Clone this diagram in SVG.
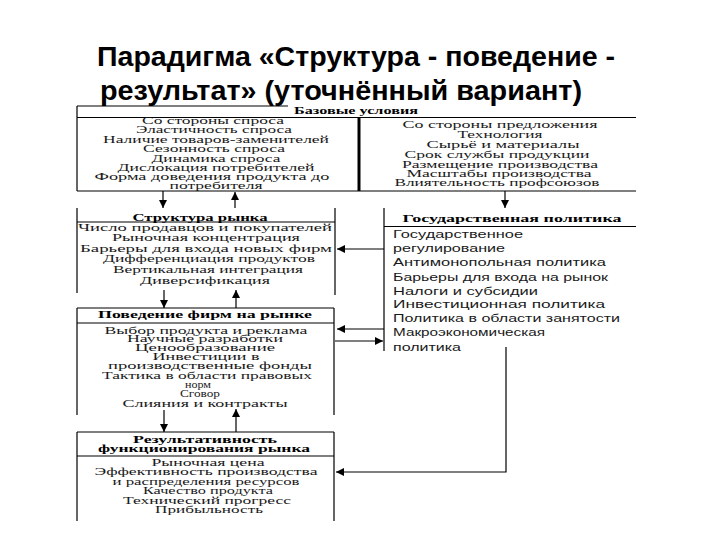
<svg xmlns="http://www.w3.org/2000/svg" width="720" height="540" viewBox="0 0 720 540">
<defs>
<style>
.ln{stroke:#000;stroke-width:1.2;fill:none}
.thick{stroke:#000;stroke-width:3;fill:none}
.ttl{font-family:"Liberation Sans",Arial,sans-serif;font-size:28px;font-weight:bold;fill:#000}
.t{font-family:"Liberation Serif","Times New Roman",serif;font-size:9.4px;text-anchor:middle;fill:#1a1a1a}
.h{font-weight:bold;font-size:10.5px;fill:#000}
.r{font-family:"Liberation Sans",Arial,sans-serif;font-size:11px;fill:#1a1a1a}
.c{stroke:#000;stroke-width:1.2;fill:none;marker-end:url(#ah)}
</style>
<marker id="ah" markerUnits="userSpaceOnUse" markerWidth="9" markerHeight="8" refX="8" refY="4" orient="auto">
<path d="M0,0 L8,4 L0,8 z" fill="#000"/>
</marker>
</defs>
<rect width="720" height="540" fill="#fff"/>
<g id="title">
<text class="ttl" x="97" y="66" textLength="518" lengthAdjust="spacingAndGlyphs">Парадигма «Структура - поведение -</text>
<text class="ttl" x="100" y="100" textLength="482" lengthAdjust="spacingAndGlyphs">результат» (уточнённый вариант)</text>
</g>
<g id="base">
<path class="ln" d="M77,106 H288 M77,106 V191 M77,117.5 H636 M77,191 H636"/>
<path class="thick" d="M359,117 V191"/>
<text class="t h" x="356" y="114" textLength="124" lengthAdjust="spacingAndGlyphs">Базовые условия</text>
<text class="t" x="213" y="123.5" textLength="142" lengthAdjust="spacingAndGlyphs">Со стороны спроса</text>
<text class="t" x="214" y="133" textLength="156" lengthAdjust="spacingAndGlyphs">Эластичность спроса</text>
<text class="t" x="216" y="142.5" textLength="226" lengthAdjust="spacingAndGlyphs">Наличие товаров-заменителей</text>
<text class="t" x="214" y="152" textLength="142" lengthAdjust="spacingAndGlyphs">Сезонность спроса</text>
<text class="t" x="216" y="161.5" textLength="129" lengthAdjust="spacingAndGlyphs">Динамика спроса</text>
<text class="t" x="216" y="170.5" textLength="197" lengthAdjust="spacingAndGlyphs">Дислокация потребителей</text>
<text class="t" x="212" y="180" textLength="235" lengthAdjust="spacingAndGlyphs">Форма доведения продукта до</text>
<text class="t" x="216" y="189" textLength="93" lengthAdjust="spacingAndGlyphs">потребителя</text>
<text class="t" x="500" y="127.8" textLength="195" lengthAdjust="spacingAndGlyphs">Со стороны предложения</text>
<text class="t" x="500" y="137.8" textLength="85" lengthAdjust="spacingAndGlyphs">Технология</text>
<text class="t" x="503" y="147.8" textLength="153" lengthAdjust="spacingAndGlyphs">Сырьё и материалы</text>
<text class="t" x="497" y="157.8" textLength="185" lengthAdjust="spacingAndGlyphs">Срок службы продукции</text>
<text class="t" x="500" y="167.5" textLength="196" lengthAdjust="spacingAndGlyphs">Размещение производства</text>
<text class="t" x="499" y="176.8" textLength="185" lengthAdjust="spacingAndGlyphs">Масштабы производства</text>
<text class="t" x="497" y="185.8" textLength="205" lengthAdjust="spacingAndGlyphs">Влиятельность профсоюзов</text>
</g>
<g id="structure">
<path class="ln" d="M77,208 V293 M335,208 V295 M77,222 H335"/>
<text class="t h" x="200" y="221" textLength="135" lengthAdjust="spacingAndGlyphs">Структура рынка</text>
<text class="t" x="205" y="231" textLength="254" lengthAdjust="spacingAndGlyphs">Число продавцов и покупателей</text>
<text class="t" x="206" y="241.2" textLength="188" lengthAdjust="spacingAndGlyphs">Рыночная концентрация</text>
<text class="t" x="206" y="251.8" textLength="252" lengthAdjust="spacingAndGlyphs">Барьеры для входа новых фирм</text>
<text class="t" x="209" y="261.8" textLength="212" lengthAdjust="spacingAndGlyphs">Дифференциация продуктов</text>
<text class="t" x="208" y="272.5" textLength="190" lengthAdjust="spacingAndGlyphs">Вертикальная интеграция</text>
<text class="t" x="205" y="283.5" textLength="130" lengthAdjust="spacingAndGlyphs">Диверсификация</text>
</g>
<g id="conduct">
<path class="ln" d="M77,308 H334 M77,308 V415 M334,308 V415 M77,323 H334"/>
<text class="t h" x="205" y="318" textLength="214" lengthAdjust="spacingAndGlyphs">Поведение фирм на рынке</text>
<text class="t" x="206" y="333.5" textLength="203" lengthAdjust="spacingAndGlyphs">Выбор продукта и реклама</text>
<text class="t" x="205" y="341.8" textLength="156" lengthAdjust="spacingAndGlyphs">Научные разработки</text>
<text class="t" x="205" y="350.8" textLength="140" lengthAdjust="spacingAndGlyphs">Ценообразование</text>
<text class="t" x="206" y="359.5" textLength="107" lengthAdjust="spacingAndGlyphs">Инвестиции в</text>
<text class="t" x="210" y="369.2" textLength="204" lengthAdjust="spacingAndGlyphs">производственные фонды</text>
<text class="t" x="207" y="378.5" textLength="210" lengthAdjust="spacingAndGlyphs">Тактика в области правовых</text>
<text class="t" x="198" y="387.8" textLength="26" lengthAdjust="spacingAndGlyphs">норм</text>
<text class="t" x="200" y="396.8" textLength="40" lengthAdjust="spacingAndGlyphs">Сговор</text>
<text class="t" x="205" y="406.8" textLength="165" lengthAdjust="spacingAndGlyphs">Слияния и контракты</text>
</g>
<g id="performance">
<path class="ln" d="M77,432 H334 M77,432 V521 M334,432 V521 M77,456 H334"/>
<text class="t h" x="205" y="443" textLength="144" lengthAdjust="spacingAndGlyphs">Результативность</text>
<text class="t h" x="204" y="452" textLength="212" lengthAdjust="spacingAndGlyphs">функционирования рынка</text>
<text class="t" x="208" y="465.8" textLength="113" lengthAdjust="spacingAndGlyphs">Рыночная цена</text>
<text class="t" x="206" y="475.2" textLength="223" lengthAdjust="spacingAndGlyphs">Эффективность производства</text>
<text class="t" x="206" y="484.5" textLength="187" lengthAdjust="spacingAndGlyphs">и распределения ресурсов</text>
<text class="t" x="208" y="493.5" textLength="130" lengthAdjust="spacingAndGlyphs">Качество продукта</text>
<text class="t" x="207" y="503.5" textLength="168" lengthAdjust="spacingAndGlyphs">Технический прогресс</text>
<text class="t" x="209" y="512.8" textLength="108" lengthAdjust="spacingAndGlyphs">Прибыльность</text>
</g>
<g id="policy">
<path class="ln" d="M384,208 V351 M384,226.5 H636"/>
<text class="t h" x="512" y="222" textLength="219" lengthAdjust="spacingAndGlyphs">Государственная политика</text>
<text class="r" x="393" y="238.3" textLength="130" lengthAdjust="spacingAndGlyphs">Государственное</text>
<text class="r" x="393" y="252.3" textLength="112" lengthAdjust="spacingAndGlyphs">регулирование</text>
<text class="r" x="393" y="266.3" textLength="213" lengthAdjust="spacingAndGlyphs">Антимонопольная политика</text>
<text class="r" x="393" y="280.7" textLength="215" lengthAdjust="spacingAndGlyphs">Барьеры для входа на рынок</text>
<text class="r" x="393" y="295" textLength="145" lengthAdjust="spacingAndGlyphs">Налоги и субсидии</text>
<text class="r" x="393" y="308.3" textLength="212" lengthAdjust="spacingAndGlyphs">Инвестиционная политика</text>
<text class="r" x="393" y="322.3" textLength="227" lengthAdjust="spacingAndGlyphs">Политика в области занятости</text>
<text class="r" x="393" y="336.3" textLength="152" lengthAdjust="spacingAndGlyphs">Макроэкономическая</text>
<text class="r" x="393" y="350.7" textLength="68" lengthAdjust="spacingAndGlyphs">политика</text>
</g>
<g id="connectors">
<path class="c" d="M163,191 V208"/>
<path class="c" d="M235,208 V192"/>
<path class="c" d="M505,191 V208"/>
<path class="c" d="M384,249 H337"/>
<path class="c" d="M164,290 V308"/>
<path class="c" d="M236,308 V290"/>
<path class="c" d="M384,329 H337"/>
<path class="c" d="M335,341 H383"/>
<path class="c" d="M164,410 V432"/>
<path class="c" d="M236,432 V409"/>
<path class="c" d="M506,347 V472 H336"/>
</g>
</svg>
